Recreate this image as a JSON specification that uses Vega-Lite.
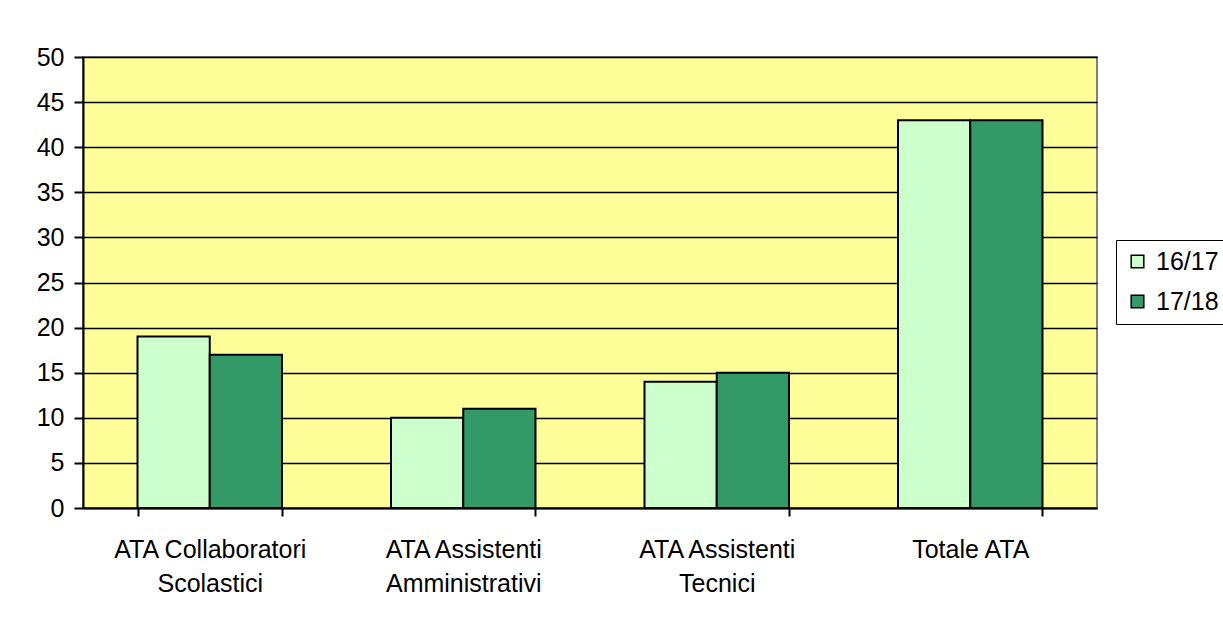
{
  "$schema": "https://vega.github.io/schema/vega-lite/v6.json",
  "autosize": {"type": "none"},
  "width": 1014,
  "height": 451,
  "padding": {"left": 83, "top": 57, "right": 126, "bottom": 109},
  "background": "white",
  "config": {
    "font": "Liberation Sans",
    "view": {"fill": "#FFFF99", "stroke": "#808080", "strokeWidth": 2}
  },
  "data": {
    "values": [
      {"categoria": "ATA Collaboratori Scolastici", "anno": "16/17", "valore": 19},
      {"categoria": "ATA Collaboratori Scolastici", "anno": "17/18", "valore": 17},
      {"categoria": "ATA Assistenti Amministrativi", "anno": "16/17", "valore": 10},
      {"categoria": "ATA Assistenti Amministrativi", "anno": "17/18", "valore": 11},
      {"categoria": "ATA Assistenti Tecnici", "anno": "16/17", "valore": 14},
      {"categoria": "ATA Assistenti Tecnici", "anno": "17/18", "valore": 15},
      {"categoria": "Totale ATA", "anno": "16/17", "valore": 43},
      {"categoria": "Totale ATA", "anno": "17/18", "valore": 43}
    ]
  },
  "mark": {"type": "bar", "stroke": "black", "strokeWidth": 2},
  "encoding": {
    "x": {
      "field": "categoria",
      "type": "nominal",
      "sort": null,
      "scale": {"paddingInner": 0.43, "paddingOuter": 0.215},
      "axis": {
        "title": null,
        "labelAngle": 0,
        "labelFontSize": 25,
        "labelColor": "black",
        "labelLimit": 0,
        "labelLineHeight": 34,
        "labelPadding": 21,
        "labelBaseline": "top",
        "labelExpr": "datum.label == 'Totale ATA' ? datum.label : [substring(datum.label, 0, lastindexof(datum.label, ' ')), substring(datum.label, lastindexof(datum.label, ' ') + 1)]",
        "tickBand": "extent",
        "tickColor": "black",
        "tickWidth": 2,
        "tickSize": 8,
        "domainColor": "black",
        "domainWidth": 2,
        "grid": false
      }
    },
    "xOffset": {"field": "anno", "type": "nominal", "scale": {"paddingInner": 0, "paddingOuter": 0}},
    "y": {
      "field": "valore",
      "type": "quantitative",
      "scale": {"domain": [0, 50]},
      "axis": {
        "title": null,
        "values": [0, 5, 10, 15, 20, 25, 30, 35, 40, 45, 50],
        "labelFontSize": 25,
        "labelColor": "black",
        "labelPadding": 10,
        "tickColor": "black",
        "tickWidth": 2,
        "tickSize": 9,
        "domainColor": "black",
        "domainWidth": 2,
        "grid": true,
        "gridColor": "black",
        "gridWidth": 1.5,
        "gridOpacity": 1
      }
    },
    "color": {
      "field": "anno",
      "type": "nominal",
      "scale": {"domain": ["16/17", "17/18"], "range": ["#CCFFCC", "#339966"]},
      "legend": {
        "title": null,
        "orient": "none",
        "legendX": 1033,
        "legendY": 183,
        "strokeColor": "black",
        "padding": 9,
        "labelFontSize": 25,
        "labelColor": "black",
        "symbolType": "square",
        "symbolSize": 160,
        "symbolStrokeColor": "black",
        "symbolStrokeWidth": 1.5,
        "symbolOpacity": 1,
        "rowPadding": 14,
        "labelOffset": 6
      }
    }
  }
}
